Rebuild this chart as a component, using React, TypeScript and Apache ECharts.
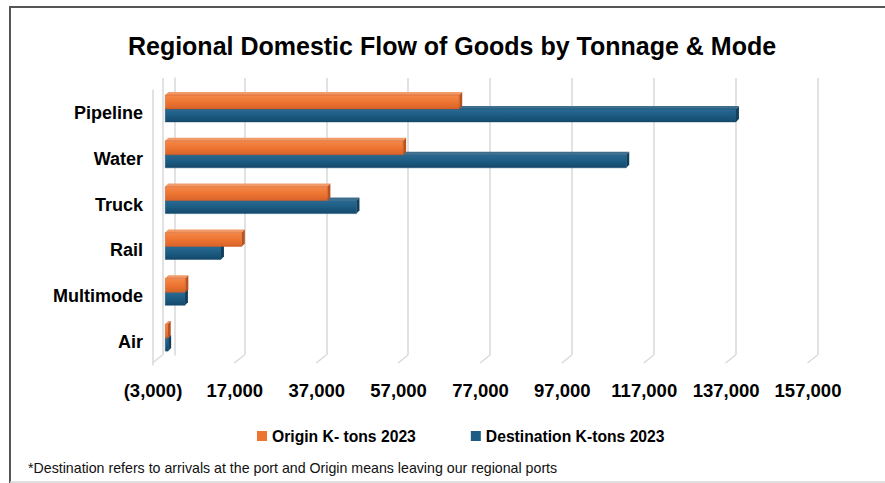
import React, { useEffect, useRef } from "react";
import * as echarts from "echarts";

const categories = ["Pipeline", "Water", "Truck", "Rail", "Multimode", "Air"];
const originValues = [71800, 58100, 39600, 18700, 4900, 600];
const destinationValues = [139400, 112600, 46700, 13600, 4800, 700];
const seriesNames = ["Origin K- tons 2023", "Destination K-tons 2023"];
const axisMin = -3000;
const axisMax = 157000;
const axisStep = 20000;
const tickValues = [-3000, 17000, 37000, 57000, 77000, 97000, 117000, 137000, 157000];
const titleText = "Regional Domestic Flow of Goods by Tonnage & Mode";
const footnote = "*Destination refers to arrivals at the port and Origin means leaving our regional ports";

const FONT = '"Liberation Sans", Arial, sans-serif';
const GRID_COLOR = "#d9d9d9";
const DEPTH = 3;

function fmt(v: number): string {
  const s = Math.abs(v).toLocaleString("en-US");
  return v < 0 ? `(${s})` : s;
}

type Palette = { front: any; top: string; side: string; stroke: string };

function make3DBar(yFrom: number, yTo: number, pal: Palette) {
  return (params: any, api: any) => {
    const v = api.value(0);
    const idx = api.value(1);
    const p0 = api.coord([0, idx]);
    const p1 = api.coord([v, idx]);
    const x0 = p0[0];
    const x1 = Math.max(p1[0], x0 + 1);
    const yt = p0[1] + yFrom;
    const yb = p0[1] + yTo;
    const d = DEPTH;
    return {
      type: "group",
      children: [
        {
          type: "polygon",
          shape: { points: [[x0, yt], [x0 + d, yt - d], [x1 + d, yt - d], [x1, yt]] },
          style: { fill: pal.top },
        },
        {
          type: "polygon",
          shape: { points: [[x1, yt], [x1 + d, yt - d], [x1 + d, yb - d], [x1, yb]] },
          style: { fill: pal.side },
        },
        {
          type: "rect",
          shape: { x: x0, y: yt, width: x1 - x0, height: yb - yt },
          style: { fill: pal.front, stroke: pal.stroke, lineWidth: 0.5 },
        },
      ],
    };
  };
}

export default function App() {
  const ref = useRef<HTMLDivElement>(null);
  useEffect(() => {
    if (!ref.current) return;
    const chart = echarts.init(ref.current, undefined, { renderer: "svg" });
    const orange: Palette = {
      front: new echarts.graphic.LinearGradient(0, 0, 0, 1, [
        { offset: 0, color: "#f4894b" },
        { offset: 0.5, color: "#ee7531" },
        { offset: 1, color: "#d8622a" },
      ]),
      top: "#f29a68",
      side: "#b9521f",
      stroke: "#c45a26",
    };
    const blue: Palette = {
      front: new echarts.graphic.LinearGradient(0, 0, 0, 1, [
        { offset: 0, color: "#2b6a92" },
        { offset: 0.5, color: "#1c5b82" },
        { offset: 1, color: "#14496b" },
      ]),
      top: "#3e6f8f",
      side: "#123f5c",
      stroke: "#154a6c",
    };
    const mainGrid = { left: 153, top: 90, width: 655, height: 275 };
    const backGrid = { left: 162.5, top: 78, width: 655, height: 277 };
    chart.setOption({
      animation: false,
      title: {
        text: titleText,
        left: 447,
        top: 28,
        textAlign: "center",
        textStyle: { fontFamily: FONT, fontWeight: "bold", fontSize: 25, color: "#000" },
      },
      legend: {
        data: seriesNames,
        top: 423,
        left: 252,
        icon: "rect",
        itemWidth: 10,
        itemHeight: 10,
        itemGap: 55,
        textStyle: { fontFamily: FONT, fontWeight: "bold", fontSize: 15.7, color: "#000" },
      },
      grid: [
        { ...mainGrid, containLabel: false },
        { ...backGrid, containLabel: false },
      ],
      xAxis: [
        {
          type: "value",
          gridIndex: 0,
          min: axisMin,
          max: axisMax,
          interval: axisStep,
          splitLine: { show: false },
          axisLine: { show: false },
          axisTick: { show: false },
          axisLabel: {
            formatter: (v: number) => fmt(v),
            margin: 16,
            fontFamily: FONT,
            fontWeight: "bold",
            fontSize: 18.5,
            color: "#000",
          },
        },
        {
          type: "value",
          gridIndex: 1,
          min: axisMin,
          max: axisMax,
          interval: axisStep,
          splitLine: { show: true, lineStyle: { color: GRID_COLOR, width: 1.5 } },
          axisLine: { show: false },
          axisTick: { show: false },
          axisLabel: { show: false },
        },
      ],
      yAxis: [
        {
          type: "category",
          gridIndex: 0,
          data: categories,
          inverse: true,
          axisTick: { show: false },
          axisLine: { show: true, onZero: false, lineStyle: { color: GRID_COLOR, width: 1.5 } },
          axisLabel: {
            margin: 10,
            fontFamily: FONT,
            fontWeight: "bold",
            fontSize: 18,
            color: "#000",
          },
        },
        {
          type: "category",
          gridIndex: 1,
          data: categories,
          inverse: true,
          axisTick: { show: false },
          axisLabel: { show: false },
          axisLine: { show: true, onZero: true, lineStyle: { color: GRID_COLOR, width: 1.5 } },
        },
      ],
      graphic: [
        { type: "line", shape: { x1: 10, y1: 7, x2: 885, y2: 7 }, style: { stroke: "#555", lineWidth: 2 } },
        { type: "line", shape: { x1: 10, y1: 6, x2: 10, y2: 483 }, style: { stroke: "#555", lineWidth: 2 } },
        { type: "line", shape: { x1: 10, y1: 482, x2: 885, y2: 482 }, style: { stroke: "#d6d6d6", lineWidth: 1.5 } },
        {
          type: "text",
          style: {
            text: footnote,
            x: 28,
            y: 468,
            verticalAlign: "middle",
            font: `14.2px ${FONT}`,
            fill: "#111",
          },
        },
      ],
      series: [
        {
          type: "custom",
          name: "floor",
          xAxisIndex: 1,
          yAxisIndex: 1,
          silent: true,
          data: tickValues.map((v) => [v, 0]),
          renderItem: (params: any, api: any) => {
            const cs = params.coordSys;
            const x = api.coord([api.value(0), 0])[0];
            const yb = cs.y + cs.height;
            return {
              type: "line",
              shape: { x1: x, y1: yb, x2: x - 10, y2: yb + 8 },
              style: { stroke: GRID_COLOR, lineWidth: 1.5 },
            };
          },
        },
        {
          type: "custom",
          name: seriesNames[0],
          xAxisIndex: 0,
          yAxisIndex: 0,
          z: 4,
          itemStyle: { color: "#ed7431" },
          encode: { x: 0, y: 1 },
          data: originValues.map((v, i) => [v, i]),
          renderItem: make3DBar(-18, -4, orange),
        },
        {
          type: "custom",
          name: seriesNames[1],
          xAxisIndex: 0,
          yAxisIndex: 0,
          z: 3,
          itemStyle: { color: "#1d5c83" },
          encode: { x: 0, y: 1 },
          data: destinationValues.map((v, i) => [v, i]),
          renderItem: make3DBar(-4, 9, blue),
        },
      ],
    });
    return () => chart.dispose();
  }, []);
  return (
    <div
      ref={ref}
      style={{ position: "fixed", left: 0, top: 0, width: 885, height: 483, background: "#fff" }}
    />
  );
}
